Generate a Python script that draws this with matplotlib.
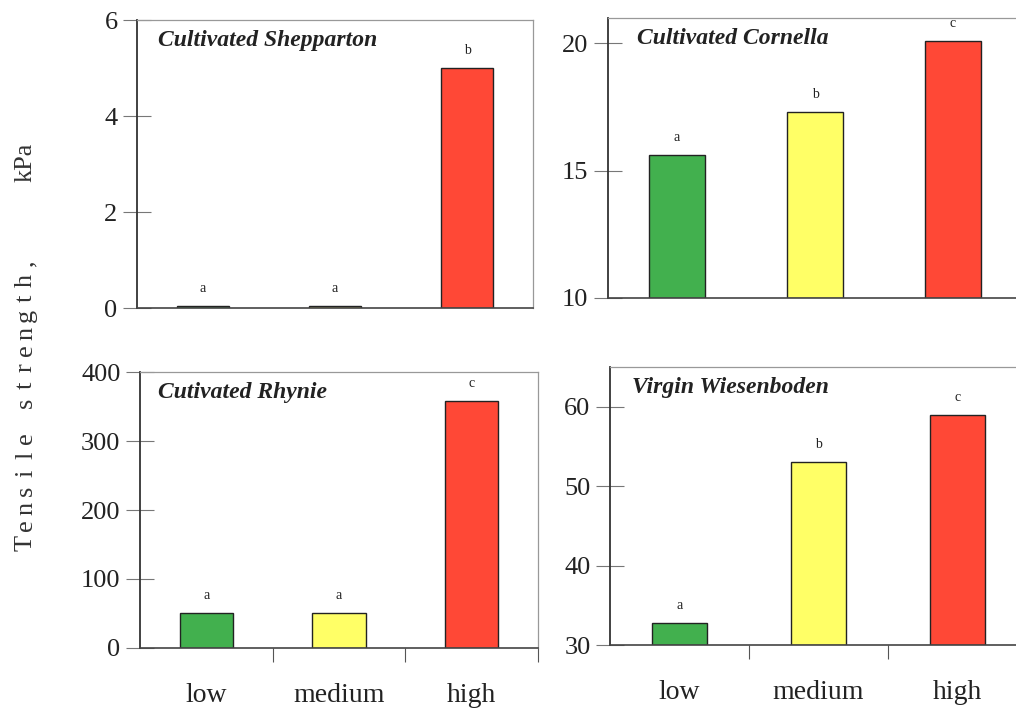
import matplotlib
matplotlib.use("Agg")
import matplotlib.pyplot as plt

# tensile strength (kPa) for low / medium / high classes
categories = ["low", "medium", "high"]
shepparton = [0.05, 0.05, 5.0]
cornella = [15.6, 17.3, 20.1]
rhynie = [50, 51, 358]
wiesenboden = [32.8, 53.0, 58.9]

shepparton_sig = ["a", "a", "b"]
cornella_sig = ["a", "b", "c"]
rhynie_sig = ["a", "a", "c"]
wiesenboden_sig = ["a", "b", "c"]

bar_colors = ["#42b04e", "#ffff66", "#ff4836"]
serif = "Liberation Serif"

W, H = 1016, 712
fig = plt.figure(figsize=(W / 100, H / 100), dpi=100)

panels = [
    # rect, title, title x, values, letters, ylim, yticks, show x labels
    ([0.1348, 0.5674, 0.3898, 0.4045], "Cultivated Shepparton", 0.052, shepparton, shepparton_sig,
     (0, 6), [0, 2, 4, 6], False),
    ([0.5984, 0.5815, 0.4075, 0.3933], "Cultivated Cornella", 0.07, cornella, cornella_sig,
     (10, 21), [10, 15, 20], False),
    ([0.1378, 0.0899, 0.3917, 0.3876], "Cutivated Rhynie", 0.045, rhynie, rhynie_sig,
     (0, 400), [0, 100, 200, 300, 400], True),
    ([0.6004, 0.0941, 0.4104, 0.3904], "Virgin Wiesenboden", 0.053, wiesenboden, wiesenboden_sig,
     (30, 65), [30, 40, 50, 60], True),
]

for rect, title, tx, values, letters, ylim, yticks, xlab in panels:
    ax = fig.add_axes(rect)
    x = range(len(categories))
    ax.bar(x, [v - ylim[0] for v in values], bottom=ylim[0], width=0.4,
           color=bar_colors, edgecolor="#222222", linewidth=1.0)
    ax.set_xlim(-0.5, 2.5)
    ax.set_ylim(*ylim)
    ax.set_yticks(yticks)
    ax.set_yticklabels([str(t) for t in yticks], fontfamily=serif, fontsize=19, color="#222222")
    ax.tick_params(axis="y", direction="inout", length=20, width=0.8, color="#777777", pad=4)

    for s in ["top", "right"]:
        ax.spines[s].set_color("#999999")
        ax.spines[s].set_linewidth(0.9)
    ax.spines["left"].set_color("#333333")
    ax.spines["left"].set_linewidth(1.3)
    ax.spines["bottom"].set_color("#444444")
    ax.spines["bottom"].set_linewidth(1.2)

    if xlab:
        ax.set_xticks([0.5, 1.5, 2.5])
        ax.set_xticklabels([])
        ax.tick_params(axis="x", direction="out", length=10, width=0.8, color="#555555")
        for i, c in enumerate(categories):
            ax.annotate(c, (i, 0), xycoords=("data", "axes fraction"), xytext=(0, -25),
                        textcoords="offset points", ha="center", va="top",
                        fontfamily=serif, fontsize=20, color="#222222")
    else:
        ax.set_xticks([])

    for i, (v, l) in enumerate(zip(values, letters)):
        ax.annotate(l, (i, v), xytext=(0, 8), textcoords="offset points",
                    ha="center", va="bottom", fontfamily=serif, fontsize=10,
                    color="#222222", annotation_clip=False)

    ax.text(tx, 0.965, title, transform=ax.transAxes, ha="left", va="top",
            fontfamily=serif, fontsize=17, fontweight="bold", fontstyle="italic",
            color="#222222")

# y axis label shared by all panels: evenly tracked letters, read bottom to top
label = "Tensile strength,"
base_x = 32 / W
start_y, step = 543, 17.5
for k, ch in enumerate(label):
    if ch == " ":
        continue
    fig.text(base_x, 1 - (start_y - k * step) / H, ch, rotation=90, rotation_mode="anchor",
             ha="center", va="baseline", fontfamily=serif, fontsize=19, color="#333333")
fig.text(base_x, 1 - 162 / H, "kPa", rotation=90, rotation_mode="anchor",
         ha="center", va="baseline", fontfamily=serif, fontsize=19, color="#333333")

fig.savefig("out.png", dpi=100)
